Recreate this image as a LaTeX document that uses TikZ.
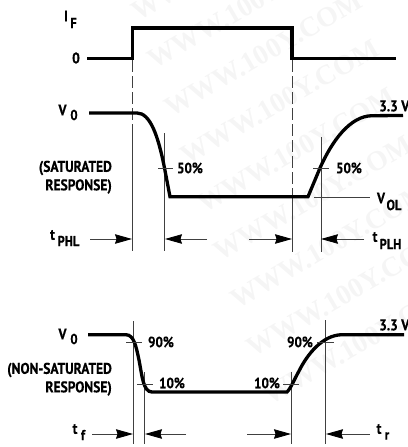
\documentclass[tikz,border=0pt]{standalone}
\usepackage{fontspec}
\newfontfamily\labfont[FakeStretch=0.87,FakeBold=0.4]{PT Sans Bold}
\newfontfamily\wmfont{Liberation Serif Bold}
\usetikzlibrary{arrows.meta}
\tikzset{
  x=1pt,y=-1pt,
  wave/.style={line width=3.3pt,black,line join=miter},
  thin line/.style={line width=0.8pt,black!75},
  dash line/.style={line width=0.9pt,black!75,dash pattern=on 12pt off 4pt},
  tick line/.style={line width=0.8pt,black!75},
  time arrow/.style={line width=0.8pt,black!75,-{Stealth[length=17pt,width=9.5pt,inset=1.5pt,black]}},
  lab/.style={inner sep=0pt,font=\labfont\fontsize{15.5}{16}\selectfont,black},
  sublab/.style={inner sep=0pt,font=\labfont\fontsize{14.5}{15}\selectfont,black},
  note/.style={inner sep=0pt,font=\labfont\fontsize{15.5}{16}\selectfont,black,anchor=east},
  mark text/.style={inner sep=0pt,font=\labfont\fontsize{15}{16}\selectfont,black},
  wm/.style={inner sep=0pt,anchor=base west,rotate=30,text=black!4,font=\wmfont\fontsize{28}{28}\selectfont}
}
\begin{document}
\begin{tikzpicture}
\useasboundingbox (0,0) rectangle (407,447);
% watermark
\begin{scope}
\clip (0,0) rectangle (407,447);
\foreach \i in {0,...,8}{
  \node[wm] (wm\i) at ({138+16.5*\i},{22+48*\i}) {WWW.100Y.COM};
}
\end{scope}
% named points
\coordinate (dLa) at (132,60); \coordinate (dLb) at (132,124); \coordinate (dLc) at (132,251);
\coordinate (dRa) at (292,60); \coordinate (dRb) at (292,196); \coordinate (dRc) at (292,252);
\coordinate (m1a) at (164.5,133); \coordinate (m1b) at (164.5,251);
\coordinate (m2a) at (321,137); \coordinate (m2b) at (321,252);
% dashed guides
\draw[dash line] (dLa) -- (dLb);
\draw[thin line] (dLb) -- (dLc);
\draw[dash line] (dRa) -- (dRb);
\draw[thin line] (dRb) -- (dRc);
\draw[thin line] (m1a) -- (m1b);
\draw[thin line] (m2a) -- (m2b);
% top waveforms
\draw[wave] (87,58.7) -- (132.5,58.7) -- (132.5,28) -- (292,28) -- (292,58.7) -- (396,58.7);
\draw[wave] (89,113) -- (137,113) .. controls (150,113) and (158,135) .. (164.5,168)
  -- (170,196.7) -- (308,196.7) -- (320,168)
  .. controls (332,141) and (350,116) .. (372,115.7) -- (403,115.5);
% ticks top
\draw[tick line] (158,168) -- (173,168);
\draw[tick line] (313,168) -- (329,168);
\draw[tick line] (314,197.5) -- (370,197.5);
% top labels
\node[lab] (iF) at (66,16) {I};
\node[sublab] (iFs) at (73.5,23) {F};
\node[lab] (zero) at (76,58) {0};
\node[lab] (v1) at (62.5,110) {V};
\node[sublab] (v1s) at (74,115) {0};
\node[note] (sat1) at (112,168) {(SATURATED};
\node[note] (sat2) at (112,186.5) {RESPONSE)};
\node[mark text] (p50a) at (190,168) {50\%};
\node[mark text] (p50b) at (349,168) {50\%};
\node[lab] (vol) at (381,198) {V};
\node[sublab] (vols) at (394,205) {OL};
\node[lab,anchor=west] (v33a) at (379,106) {3.3 V};
% top time arrows
\coordinate (a1) at (90,239); \coordinate (a2) at (207,239);
\coordinate (a3) at (249,239); \coordinate (a4) at (364,239);
\draw[time arrow] (a1) -- (132,239);
\draw[time arrow] (a2) -- (165,239);
\draw[time arrow] (a3) -- (292,239);
\draw[time arrow] (a4) -- (321,239);
\node[lab] (tp1) at (52.5,235) {t};
\node[sublab] (tp1s) at (68.5,241) {PHL};
\node[lab] (tp2) at (375,237) {t};
\node[sublab] (tp2s) at (390.5,244) {PLH};
% bottom guides
\coordinate (n1a) at (133.5,321); \coordinate (n1b) at (133.5,444);
\coordinate (n2a) at (144.5,372); \coordinate (n2b) at (144.5,444);
\coordinate (n3a) at (291,372); \coordinate (n3b) at (291,444);
\coordinate (n4a) at (325.5,320); \coordinate (n4b) at (325.5,444);
\draw[thin line] (n1a) -- (n1b);
\draw[thin line] (n2a) -- (n2b);
\draw[thin line] (n3a) -- (n3b);
\draw[thin line] (n4a) -- (n4b);
% bottom waveform
\draw[wave] (88,334.7) -- (126,334.7) .. controls (134,335) and (136,346) .. (139,360)
  .. controls (142,375) and (143,392) .. (152,392) -- (287,392)
  .. controls (291,388) and (295,378) .. (299,371)
  .. controls (307,355) and (322,335) .. (342,334.7) -- (404,334.7);
% ticks bottom
\draw[tick line] (126,342) -- (142,342);
\draw[tick line] (137,384) -- (153,384);
\draw[tick line] (317,342) -- (334,342);
\draw[tick line] (283,384) -- (299,384);
% bottom labels
\node[lab] (v2) at (62.5,334) {V};
\node[sublab] (v2s) at (74,339) {0};
\node[note] (ns1) at (112,370) {(NON-SATURATED};
\node[note] (ns2) at (112,388.5) {RESPONSE)};
\node[mark text] (p90a) at (161,342) {90\%};
\node[mark text] (p10a) at (172,383) {10\%};
\node[mark text] (p90b) at (300,342) {90\%};
\node[mark text] (p10b) at (267,383) {10\%};
\node[lab,anchor=west] (v33b) at (379,325) {3.3 V};
% bottom arrows
\coordinate (b1) at (92,434); \coordinate (b2) at (186,434);
\coordinate (b3) at (247,434); \coordinate (b4) at (370,434);
\draw[time arrow] (b1) -- (133,434);
\draw[time arrow] (b2) -- (145,434);
\draw[time arrow] (b3) -- (291,434);
\draw[time arrow] (b4) -- (326,434);
\node[lab] (tf) at (75,429) {t};
\node[sublab] (tfs) at (83,435) {f};
\node[lab] (tr) at (379,429) {t};
\node[sublab] (trs) at (387,436) {r};
\end{tikzpicture}
\end{document}
